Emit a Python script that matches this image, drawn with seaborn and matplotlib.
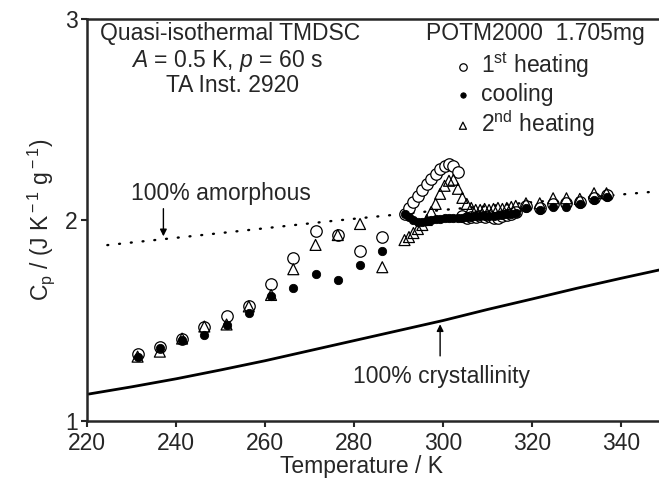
import numpy as np
import pandas as pd
import seaborn as sns
import matplotlib.pyplot as plt

# %% Datos.

# Temperaturas de las medidas cada 5 K (zona baja).
t_bajo = [231.3, 236.3, 241.3, 246.3, 251.3, 256.3, 261.3, 266.3, 271.3, 276.3, 281.3, 286.3]
# Temperaturas densas alrededor de la fusion.
t_denso = [291.3, 292.3, 293.3, 294.3, 295.3, 296.3, 297.3, 298.3, 299.3, 300.3, 301.3, 302.3, 303.3,
           304.3, 305.3, 306.3, 307.3, 308.3, 309.3, 310.3, 311.3, 312.3, 313.3, 314.3, 315.3, 316.3]
# Temperaturas altas, mas espaciadas.
t_alto = [318.6, 321.7, 324.7, 327.7, 330.7, 333.9, 336.7]

cp_cal1_bajo = [1.335, 1.37, 1.41, 1.47, 1.52, 1.57, 1.68, 1.81, 1.947, 1.925, 1.847, 1.917]
cp_cal1_denso = [2.03, 2.06, 2.09, 2.12, 2.15, 2.18, 2.205, 2.23, 2.255, 2.27, 2.278, 2.27, 2.24,
                 2.02, 2.012, 2.015, 2.015, 2.018, 2.015, 2.018, 2.012, 2.008, 2.02, 2.025, 2.03, 2.04]
cp_cal1_alto = [2.07, 2.06, 2.08, 2.085, 2.09, 2.11, 2.125]

cp_enf_bajo = [1.32, 1.365, 1.405, 1.43, 1.48, 1.535, 1.62, 1.66, 1.73, 1.70, 1.776, 1.847]
cp_enf_denso = [2.03, 2.015, 2.0, 1.99, 1.99, 1.995, 2.0, 2.005, 2.005, 2.01, 2.01, 2.01, 2.012,
                2.012, 2.015, 2.015, 2.018, 2.018, 2.02, 2.02, 2.022, 2.025, 2.027, 2.03, 2.032, 2.035]
cp_enf_alto = [2.058, 2.05, 2.066, 2.066, 2.078, 2.10, 2.116]

cp_cal2_bajo = [1.32, 1.345, 1.41, 1.47, 1.48, 1.57, 1.627, 1.755, 1.876, 1.925, 1.98, 1.765]
cp_cal2_denso = [1.90, 1.915, 1.935, 1.955, 1.975, 2.0, 2.04, 2.08, 2.13, 2.17, 2.195, 2.2, 2.155,
                 2.11, 2.08, 2.06, 2.05, 2.05, 2.055, 2.05, 2.055, 2.06, 2.055, 2.06, 2.065, 2.07]
cp_cal2_alto = [2.083, 2.083, 2.108, 2.108, 2.105, 2.133, 2.133]

# Lineas de referencia.
t_amorfo = [224.5, 250, 275, 300, 325, 348.5]
cp_amorfo = [1.875, 1.935, 1.995, 2.05, 2.098, 2.143]
t_cristal = [220.3, 230, 240, 250, 260, 270, 280, 290, 300, 310, 320, 330, 340, 348.5]
cp_cristal = [1.134, 1.17, 1.21, 1.254, 1.30, 1.35, 1.40, 1.45, 1.50, 1.555, 1.607, 1.66, 1.71, 1.751]

etiquetas = ['1$^{\\rm st}$ heating', 'cooling', '2$^{\\rm nd}$ heating']

# %% Preparacion de la tabla.

temperaturas = t_bajo + t_denso + t_alto
df = pd.concat([
    pd.DataFrame({'T': temperaturas, 'Cp': cp_cal1_bajo + cp_cal1_denso + cp_cal1_alto, 'serie': etiquetas[0]}),
    pd.DataFrame({'T': temperaturas, 'Cp': cp_enf_bajo + cp_enf_denso + cp_enf_alto, 'serie': etiquetas[1]}),
    pd.DataFrame({'T': temperaturas, 'Cp': cp_cal2_bajo + cp_cal2_denso + cp_cal2_alto, 'serie': etiquetas[2]}),
])

# %% Grafico.

sns.set_style('ticks')
plt.rcParams['font.family'] = ['Liberation Sans', 'DejaVu Sans']
plt.rcParams['mathtext.fontset'] = 'custom'
plt.rcParams['mathtext.rm'] = 'Liberation Sans'
plt.rcParams['mathtext.it'] = 'Liberation Sans:italic'

tam = 16.5

fig = plt.figure(figsize=(6.59, 4.84), dpi=100)
ax = fig.add_axes([0.1325, 0.1302, 0.8675, 0.8306])

sns.lineplot(x=t_amorfo, y=cp_amorfo, color='black', lw=1.7, linestyle=(0, (0.4, 4.6)),
             dash_capstyle='round', ax=ax)
sns.lineplot(x=t_cristal, y=cp_cristal, color='black', lw=2.0, ax=ax)

sns.scatterplot(data=df[df['serie'] == etiquetas[0]], x='T', y='Cp', marker='o', s=68,
                facecolor='white', edgecolor='black', linewidth=0.9, label=etiquetas[0], ax=ax, zorder=3)
sns.scatterplot(data=df[df['serie'] == etiquetas[1]], x='T', y='Cp', marker='o', s=36,
                color='black', edgecolor='black', linewidth=0.6, label=etiquetas[1], ax=ax, zorder=4)
sns.scatterplot(data=df[df['serie'] == etiquetas[2]], x='T', y='Cp', marker='^', s=62,
                facecolor='none', edgecolor='black', linewidth=0.9, label=etiquetas[2], ax=ax, zorder=5)

ax.set_xlim(220, 348.5)
ax.set_ylim(1, 3)
ax.set_xticks([220, 240, 260, 280, 300, 320, 340])
ax.set_yticks([1, 2, 3])
ax.tick_params(direction='out', length=4, width=1.5, labelsize=tam)
ax.tick_params(axis='x', pad=4)
ax.tick_params(axis='y', pad=3)
for lado in ['left', 'bottom', 'top']:
    ax.spines[lado].set_linewidth(1.8)
ax.spines['right'].set_visible(False)

ax.set_xlabel('Temperature / K', fontsize=tam)
ax.xaxis.set_label_coords(0.479, -0.085)
ax.set_ylabel('C$_{\\rm p}$ / (J K$^{\\rm -1}$ g$^{\\rm -1}$)', fontsize=tam, labelpad=6)

# Textos de la figura.
ax.text(252, 2.93, 'Quasi-isothermal TMDSC', fontsize=tam, ha='center', va='center')
ax.text(251.4, 2.79, '$\\it{A}$ = 0.5 K, $\\it{p}$ = 60 s', fontsize=tam, ha='center', va='center')
ax.text(252.6, 2.67, 'TA Inst. 2920', fontsize=tam, ha='center', va='center')
ax.text(320.6, 2.93, 'POTM2000  1.705mg', fontsize=tam, ha='center', va='center')

ax.annotate('', xy=(237.1, 1.905), xytext=(237.1, 2.07),
            arrowprops=dict(arrowstyle='-|>', color='black', lw=1, mutation_scale=10))
ax.text(250, 2.13, '100% amorphous', fontsize=tam, ha='center', va='center')
ax.annotate('', xy=(299.3, 1.495), xytext=(299.3, 1.31),
            arrowprops=dict(arrowstyle='-|>', color='black', lw=1, mutation_scale=10))
ax.text(299.5, 1.22, '100% crystallinity', fontsize=tam, ha='center', va='center')

ax.legend(loc='upper left', bbox_to_anchor=(0.645, 0.92), frameon=False, fontsize=tam,
          markerscale=0.65, handlelength=0.6, handletextpad=0.5, labelspacing=0.1,
          borderpad=0, borderaxespad=0)

plt.savefig('out.png', dpi=100)
